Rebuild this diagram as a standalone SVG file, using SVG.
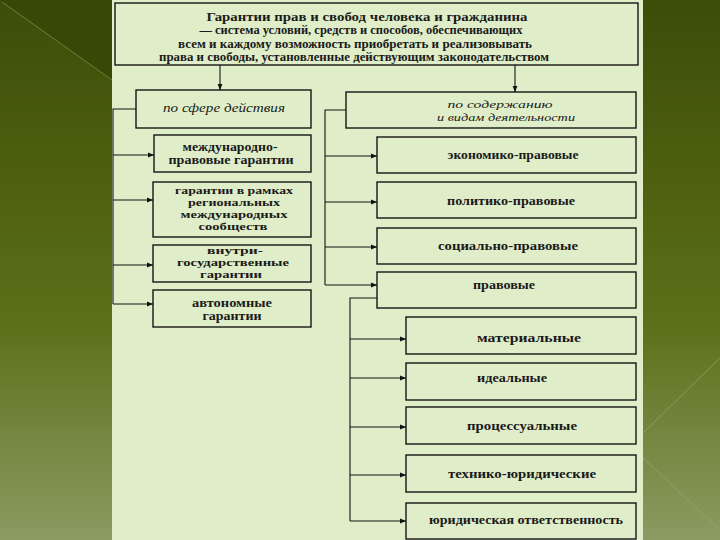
<svg xmlns="http://www.w3.org/2000/svg" width="720" height="540" viewBox="0 0 720 540">
<defs>
<linearGradient id="bg" x1="0" y1="0" x2="0" y2="1">
<stop offset="0" stop-color="#3c4d09"/>
<stop offset="0.35" stop-color="#4f6110"/>
<stop offset="0.6" stop-color="#5c7019"/>
<stop offset="0.85" stop-color="#7a8b48"/>
<stop offset="1" stop-color="#8b9b62"/>
</linearGradient>
<marker id="arr" viewBox="0 0 10 10" refX="10" refY="5" markerWidth="6" markerHeight="6" orient="auto" markerUnits="userSpaceOnUse">
<path d="M0,1 L10,5 L0,9 z" fill="#111"/>
</marker>
<style>
.box{fill:none;stroke:#151515;stroke-width:1.4}
.ln{fill:none;stroke:#151515;stroke-width:1.1}
.t{font-family:"Liberation Serif","DejaVu Serif",serif;font-size:12px;font-weight:bold;fill:#1a1a1a;text-anchor:middle}
.i{font-style:italic;font-weight:normal}
.h{font-size:13px}
.s{font-size:10.5px}
</style>
</defs>
<rect width="720" height="540" fill="url(#bg)"/>
<polygon points="0,0 112,0 112,80" fill="#384806"/>
<line x1="2" y1="2" x2="112" y2="80" stroke="#6f7e3a" stroke-width="1"/>
<line x1="643" y1="433" x2="720" y2="358" stroke="#97a870" stroke-width="1" opacity="0.7"/>
<line x1="643" y1="458" x2="720" y2="530" stroke="#97a870" stroke-width="1" opacity="0.7"/>
<rect x="112" y="0" width="531" height="540" fill="#dfedc8"/>

<g id="connectors">
<path class="ln" d="M220,65 V90" marker-end="url(#arr)"/>
<path class="ln" d="M515,65 V92" marker-end="url(#arr)"/>
<path class="ln" d="M136,109 H113 V304"/>
<path class="ln" d="M113,155 H154" marker-end="url(#arr)"/>
<path class="ln" d="M113,200 H153" marker-end="url(#arr)"/>
<path class="ln" d="M113,265 H153" marker-end="url(#arr)"/>
<path class="ln" d="M113,304 H153" marker-end="url(#arr)"/>
<path class="ln" d="M346,110 H325 V285"/>
<path class="ln" d="M325,156 H377" marker-end="url(#arr)"/>
<path class="ln" d="M325,202 H377" marker-end="url(#arr)"/>
<path class="ln" d="M325,247 H377" marker-end="url(#arr)"/>
<path class="ln" d="M325,285 H377" marker-end="url(#arr)"/>
<path class="ln" d="M377,298 H350 V521"/>
<path class="ln" d="M350,339 H406" marker-end="url(#arr)"/>
<path class="ln" d="M350,378 H406" marker-end="url(#arr)"/>
<path class="ln" d="M350,427 H406" marker-end="url(#arr)"/>
<path class="ln" d="M350,475 H406" marker-end="url(#arr)"/>
<path class="ln" d="M350,521 H406" marker-end="url(#arr)"/>
</g>

<g id="top">
<rect class="box" x="115" y="3" width="523" height="62" stroke-width="1.8"/>
<text class="t h" x="367" y="21" textLength="321" lengthAdjust="spacingAndGlyphs">Гарантии прав и свобод человека и гражданина</text>
<text class="t" x="361" y="34" font-weight="normal" textLength="323" lengthAdjust="spacingAndGlyphs">— система условий, средств и способов, обеспечивающих</text>
<text class="t" x="355" y="48" font-weight="normal" textLength="354" lengthAdjust="spacingAndGlyphs">всем и каждому возможность приобретать и реализовывать</text>
<text class="t" x="354" y="61" font-weight="normal" textLength="390" lengthAdjust="spacingAndGlyphs">права и свободы, установленные действующим законодательством</text>
</g>

<g id="sphere">
<rect class="box" x="136" y="90" width="175" height="38"/>
<text class="t i" x="224" y="112" textLength="122" lengthAdjust="spacingAndGlyphs">по сфере действия</text>
</g>
<g id="content">
<rect class="box" x="346" y="92" width="290" height="36"/>
<text class="t i s" x="500" y="108" textLength="105" lengthAdjust="spacingAndGlyphs">по содержанию</text>
<text class="t i s" x="506" y="121" textLength="138" lengthAdjust="spacingAndGlyphs">и видам деятельности</text>
</g>

<g id="intl">
<rect class="box" x="154" y="135" width="157" height="37"/>
<text class="t" x="230" y="151" textLength="95" lengthAdjust="spacingAndGlyphs">международно-</text>
<text class="t" x="231" y="164" textLength="125" lengthAdjust="spacingAndGlyphs">правовые гарантии</text>
</g>
<g id="regional">
<rect class="box" x="153" y="182" width="158" height="55"/>
<text class="t s" x="234" y="194" textLength="118" lengthAdjust="spacingAndGlyphs">гарантии в рамках</text>
<text class="t s" x="234" y="206" textLength="92" lengthAdjust="spacingAndGlyphs">региональных</text>
<text class="t s" x="234" y="218" textLength="107" lengthAdjust="spacingAndGlyphs">международных</text>
<text class="t s" x="233" y="230" textLength="69" lengthAdjust="spacingAndGlyphs">сообществ</text>
</g>
<g id="domestic">
<rect class="box" x="153" y="245" width="158" height="37"/>
<text class="t s" x="235" y="254" textLength="56" lengthAdjust="spacingAndGlyphs">внутри-</text>
<text class="t s" x="233" y="266" textLength="112" lengthAdjust="spacingAndGlyphs">государственные</text>
<text class="t s" x="231" y="278" textLength="62" lengthAdjust="spacingAndGlyphs">гарантии</text>
</g>
<g id="autonomous">
<rect class="box" x="153" y="290" width="158" height="37"/>
<text class="t" x="232" y="307" textLength="80" lengthAdjust="spacingAndGlyphs">автономные</text>
<text class="t" x="232" y="320" textLength="59" lengthAdjust="spacingAndGlyphs">гарантии</text>
</g>

<g id="econ">
<rect class="box" x="377" y="137" width="259" height="36"/>
<text class="t" x="513" y="159" textLength="131" lengthAdjust="spacingAndGlyphs">экономико-правовые</text>
</g>
<g id="polit">
<rect class="box" x="377" y="182" width="259" height="36"/>
<text class="t" x="511" y="205" textLength="128" lengthAdjust="spacingAndGlyphs">политико-правовые</text>
</g>
<g id="social">
<rect class="box" x="377" y="228" width="259" height="36"/>
<text class="t" x="508" y="250" textLength="140" lengthAdjust="spacingAndGlyphs">социально-правовые</text>
</g>
<g id="legal">
<rect class="box" x="377" y="272" width="259" height="36"/>
<text class="t" x="504" y="289" textLength="62" lengthAdjust="spacingAndGlyphs">правовые</text>
</g>
<g id="material">
<rect class="box" x="406" y="317" width="230" height="37"/>
<text class="t" x="529" y="342" textLength="104" lengthAdjust="spacingAndGlyphs">материальные</text>
</g>
<g id="ideal">
<rect class="box" x="406" y="363" width="230" height="37"/>
<text class="t" x="512" y="382" textLength="70" lengthAdjust="spacingAndGlyphs">идеальные</text>
</g>
<g id="procedural">
<rect class="box" x="406" y="407" width="230" height="37"/>
<text class="t" x="522" y="430" textLength="110" lengthAdjust="spacingAndGlyphs">процессуальные</text>
</g>
<g id="technical">
<rect class="box" x="406" y="455" width="230" height="37"/>
<text class="t" x="522" y="478" textLength="148" lengthAdjust="spacingAndGlyphs">технико-юридические</text>
</g>
<g id="liability">
<rect class="box" x="406" y="503" width="230" height="36"/>
<text class="t" x="526" y="524" textLength="194" lengthAdjust="spacingAndGlyphs">юридическая ответственность</text>
</g>
</svg>
